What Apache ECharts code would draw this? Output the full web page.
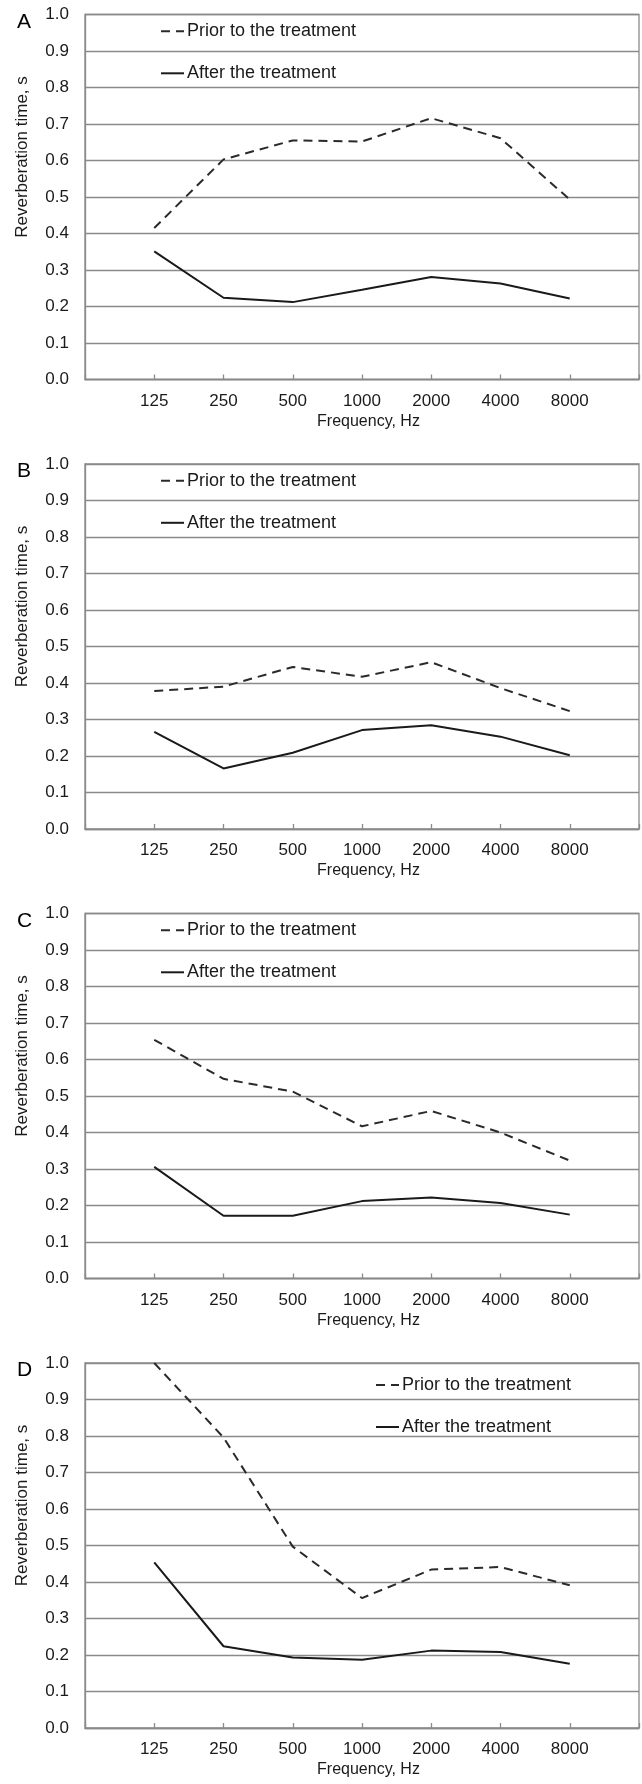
<!DOCTYPE html>
<html><head><meta charset="utf-8">
<script src="https://cdn.jsdelivr.net/npm/echarts@6/dist/echarts.min.js"></script>
<style>html,body{margin:0;padding:0;background:#fff}#c{width:642px;height:1784px}</style>
</head><body><div id="c"></div>
<script>
const frequencies = ['125', '250', '500', '1000', '2000', '4000', '8000'];
const panelLabels = ['A', 'B', 'C', 'D'];
const seriesNames = ['Prior to the treatment', 'After the treatment'];
const xAxisTitle = 'Frequency, Hz';
const yAxisTitle = 'Reverberation time, s';

const priorA = [0.415, 0.603, 0.655, 0.652, 0.716, 0.661, 0.493];
const afterA = [0.351, 0.224, 0.212, 0.246, 0.281, 0.263, 0.222];
const priorB = [0.378, 0.390, 0.444, 0.417, 0.457, 0.386, 0.323];
const afterB = [0.266, 0.166, 0.209, 0.271, 0.284, 0.253, 0.202];
const priorC = [0.654, 0.547, 0.512, 0.417, 0.459, 0.400, 0.323];
const afterC = [0.306, 0.172, 0.172, 0.212, 0.222, 0.207, 0.175];
const priorD = [1.000, 0.796, 0.497, 0.356, 0.434, 0.441, 0.391];
const afterD = [0.454, 0.224, 0.193, 0.187, 0.212, 0.208, 0.176];

const priorAll = [priorA, priorB, priorC, priorD];
const afterAll = [afterA, afterB, afterC, afterD];

const FONT = 'Liberation Sans, Arial, sans-serif';
const GRAY = '#8a8a8a';
const panelTops = [14.5, 464, 913.5, 1363];
const PH = 365;

const grids = [], xAxes = [], yAxes = [], series = [], legends = [], titles = [], graphics = [];
panelTops.forEach((top, i) => {
  grids.push({ left: 85, width: 554, top: top, height: PH, show: true, borderColor: GRAY, borderWidth: 1.3, containLabel: false });
  xAxes.push({
    type: 'value', gridIndex: i, min: 0, max: 8, interval: 1,
    name: xAxisTitle, nameLocation: 'middle', nameGap: 34,
    nameTextStyle: { fontFamily: FONT, fontSize: 16, color: '#1a1a1a', padding: [0, 0, 0, 13] },
    axisLine: { show: true, lineStyle: { color: GRAY, width: 1.3 } },
    axisTick: { show: true, inside: true, length: 5, lineStyle: { color: GRAY, width: 1.3 } },
    splitLine: { show: false },
    axisLabel: { margin: 13, fontFamily: FONT, fontSize: 17, color: '#1a1a1a',
      formatter: v => (v >= 1 && v <= 7) ? frequencies[v - 1] : '' }
  });
  yAxes.push({
    type: 'value', gridIndex: i, min: 0, max: 1, interval: 0.1,
    axisLine: { show: true, lineStyle: { color: GRAY, width: 1.3 } },
    axisTick: { show: false },
    splitLine: { show: true, lineStyle: { color: GRAY, width: 1.3 } },
    axisLabel: { margin: 16, fontFamily: FONT, fontSize: 17, color: '#1a1a1a', formatter: v => v.toFixed(1) }
  });
  series.push({
    name: seriesNames[0], type: 'line', xAxisIndex: i, yAxisIndex: i, symbol: 'none', silent: true,
    lineStyle: { color: '#2a2a2a', width: 2, type: [9, 6] }, itemStyle: { color: '#2a2a2a' },
    data: priorAll[i].map((v, k) => [k + 1, v])
  });
  series.push({
    name: seriesNames[1], type: 'line', xAxisIndex: i, yAxisIndex: i, symbol: 'none', silent: true,
    lineStyle: { color: '#1a1a1a', width: 2, type: 'solid' }, itemStyle: { color: '#1a1a1a' },
    data: afterAll[i].map((v, k) => [k + 1, v])
  });
  const isD = i === 3;
  legends.push({
    data: seriesNames, orient: 'vertical', left: isD ? 370 : 155, top: top + (isD ? 8 : 2.8),
    itemWidth: 23, itemHeight: 14, itemGap: 24, selectedMode: false,
    itemStyle: { opacity: 0, borderWidth: 0 },
    textStyle: { fontFamily: FONT, fontSize: 18, color: '#1a1a1a', padding: [0, 0, 0, -2] }
  });
  titles.push({ text: panelLabels[i], left: 12, top: top - 8,
    textStyle: { fontFamily: FONT, fontSize: 21, fontWeight: 'normal', color: '#000' } });
  graphics.push({
    type: 'text', x: 22, y: top + 142.5, rotation: Math.PI / 2, silent: true,
    style: { text: yAxisTitle, fontFamily: FONT, fontSize: 17, fill: '#1a1a1a', align: 'center', verticalAlign: 'middle' }
  });
});

const chart = echarts.init(document.getElementById('c'), null, { renderer: 'canvas' });
chart.setOption({
  animation: false, backgroundColor: '#fff',
  title: titles, grid: grids, xAxis: xAxes, yAxis: yAxes, legend: legends, series: series, graphic: graphics
});
</script></body></html>
